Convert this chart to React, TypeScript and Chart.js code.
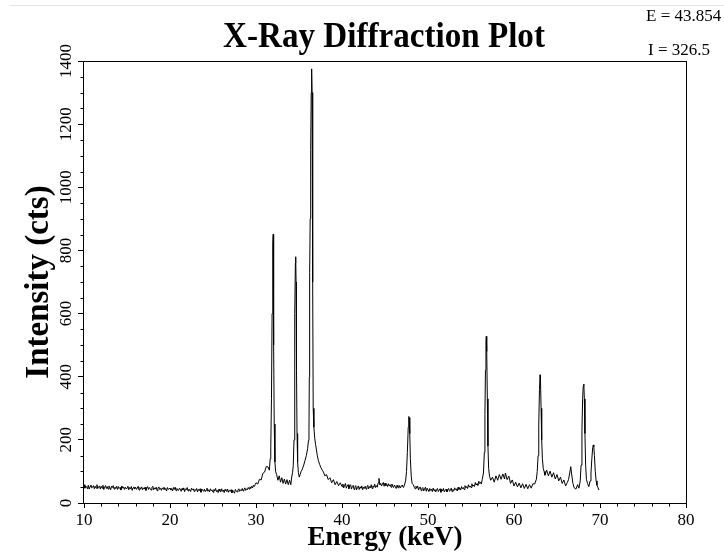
import React, { useEffect, useRef } from "react";
import { Chart, registerables } from "chart.js";

Chart.register(...registerables);

// ---- data ----
const energyKeV: number[] = [
  10.0, 10.1, 10.2, 10.3, 10.4, 10.5, 10.6, 10.7, 10.8, 10.9,
  11.0, 11.1, 11.2, 11.3, 11.4, 11.5, 11.6, 11.7, 11.8, 11.9,
  12.0, 12.1, 12.2, 12.3, 12.4, 12.5, 12.6, 12.7, 12.8, 12.9,
  13.0, 13.1, 13.2, 13.3, 13.4, 13.5, 13.6, 13.7, 13.8, 13.9,
  14.0, 14.1, 14.2, 14.3, 14.4, 14.5, 14.6, 14.7, 14.8, 14.9,
  15.0, 15.1, 15.2, 15.3, 15.4, 15.5, 15.6, 15.7, 15.8, 15.9,
  16.0, 16.1, 16.2, 16.3, 16.4, 16.5, 16.6, 16.7, 16.8, 16.9,
  17.0, 17.1, 17.2, 17.3, 17.4, 17.5, 17.6, 17.7, 17.8, 17.9,
  18.0, 18.1, 18.2, 18.3, 18.4, 18.5, 18.6, 18.7, 18.8, 18.9,
  19.0, 19.1, 19.2, 19.3, 19.4, 19.5, 19.6, 19.7, 19.8, 19.9,
  20.0, 20.1, 20.2, 20.3, 20.4, 20.5, 20.6, 20.7, 20.8, 20.9,
  21.0, 21.1, 21.2, 21.3, 21.4, 21.5, 21.6, 21.7, 21.8, 21.9,
  22.0, 22.1, 22.2, 22.3, 22.4, 22.5, 22.6, 22.7, 22.8, 22.9,
  23.0, 23.1, 23.2, 23.3, 23.4, 23.5, 23.6, 23.7, 23.8, 23.9,
  24.0, 24.1, 24.2, 24.3, 24.4, 24.5, 24.6, 24.7, 24.8, 24.9,
  25.0, 25.1, 25.2, 25.3, 25.4, 25.5, 25.6, 25.7, 25.8, 25.9,
  26.0, 26.1, 26.2, 26.3, 26.4, 26.5, 26.6, 26.7, 26.8, 26.9,
  27.0, 27.1, 27.2, 27.3, 27.4, 27.5, 27.6, 27.7, 27.8, 27.9,
  28.0, 28.1, 28.2, 28.3, 28.4, 28.5, 28.6, 28.7, 28.8, 28.9,
  29.0, 29.1, 29.2, 29.3, 29.4, 29.5, 29.6, 29.7, 29.8, 29.9,
  30.0, 30.2, 30.4, 30.6, 30.8, 31.0, 31.2, 31.4, 31.55,
  31.65, 31.72, 31.8, 31.87, 31.93, 31.97, 32.0, 32.03, 32.07, 32.12, 32.2, 32.28,
  32.4, 32.55, 32.7, 32.85, 33.0, 33.15, 33.3, 33.45, 33.6, 33.75, 33.9, 34.05, 34.15,
  34.25, 34.33, 34.42, 34.48, 34.53, 34.58, 34.62, 34.66, 34.71, 34.77, 34.84, 34.93, 35.03, 35.13,
  35.25, 35.4, 35.55, 35.7, 35.85, 36.0, 36.1, 36.16, 36.2, 36.24, 36.3, 36.36, 36.42, 36.47, 36.52, 36.57, 36.61, 36.65,
  36.73, 36.83, 36.93, 37.03, 37.13, 37.25, 37.4, 37.55, 37.7, 37.85, 38.0, 38.2, 38.4, 38.6, 38.8, 39.0, 39.2, 39.4, 39.6, 39.8,
  40.0, 40.1, 40.2, 40.3, 40.4, 40.5, 40.6, 40.7, 40.8, 40.9,
  41.0, 41.1, 41.2, 41.3, 41.4, 41.5, 41.6, 41.7, 41.8, 41.9,
  42.0, 42.1, 42.2, 42.3, 42.4, 42.5, 42.6, 42.7, 42.8, 42.9,
  43.0, 43.1, 43.2, 43.3, 43.4, 43.5, 43.6, 43.7, 43.8, 43.9,
  44.0, 44.1, 44.2, 44.3, 44.4, 44.5, 44.6, 44.7, 44.8, 44.9,
  45.0, 45.1, 45.2, 45.3, 45.4, 45.5, 45.6, 45.7, 45.8, 45.9,
  46.0, 46.1, 46.2, 46.3, 46.4, 46.5, 46.6, 46.7, 46.8, 46.9,
  47.0, 47.1, 47.2, 47.3, 47.4,
  47.5, 47.6, 47.7, 47.76, 47.82, 47.88, 47.95, 48.05, 48.15,
  48.3, 48.4, 48.5, 48.6, 48.7, 48.8, 48.9,
  49.0, 49.1, 49.2, 49.3, 49.4, 49.5, 49.6, 49.7, 49.8, 49.9,
  50.0, 50.1, 50.2, 50.3, 50.4, 50.5, 50.6, 50.7, 50.8, 50.9,
  51.0, 51.1, 51.2, 51.3, 51.4, 51.5, 51.6, 51.7, 51.8, 51.9,
  52.0, 52.1, 52.2, 52.3, 52.4, 52.5, 52.6, 52.7, 52.8, 52.9,
  53.0, 53.1, 53.2, 53.3, 53.4, 53.5, 53.6, 53.7, 53.8, 53.9,
  54.0, 54.1, 54.2, 54.3, 54.4, 54.5, 54.6, 54.7, 54.8, 54.9,
  55.0, 55.1, 55.2, 55.3, 55.4, 55.5, 55.6, 55.7, 55.8, 55.9,
  56.0, 56.1, 56.2, 56.3, 56.45,
  56.55, 56.62, 56.68, 56.74, 56.78, 56.83, 56.9, 56.97, 57.05, 57.15, 57.3,
  57.5, 57.7, 57.9, 58.1, 58.3, 58.5, 58.7, 58.9, 59.0, 59.2, 59.4, 59.6, 59.8,
  60.0, 60.2, 60.4, 60.6, 60.8, 61.0, 61.2, 61.4, 61.6, 61.8, 62.0, 62.2, 62.4, 62.6,
  62.7, 62.8, 62.88, 62.96, 63.03, 63.08, 63.15, 63.22, 63.3, 63.4, 63.5,
  63.6, 63.8, 64.0, 64.2, 64.4, 64.6, 64.8, 65.0, 65.2, 65.4, 65.6, 65.8,
  66.0, 66.2, 66.35, 66.5, 66.6, 66.7, 66.85, 67.0, 67.2, 67.4, 67.55, 67.7,
  67.8, 67.9, 67.98, 68.05, 68.12, 68.18, 68.25, 68.33, 68.42, 68.55, 68.7, 68.85,
  68.95, 69.05, 69.15, 69.22, 69.28, 69.35, 69.45, 69.55, 69.65, 69.75, 69.85, 69.9,
];

const intensityCts: number[] = [
  58, 47, 54, 50, 45, 56, 44, 52, 57, 48,
  50, 55, 45, 53, 47, 58, 46, 51, 54, 44,
  53, 47, 56, 43, 50, 55, 46, 52, 44, 54,
  48, 42, 53, 49, 55, 44, 50, 46, 53, 43,
  52, 46, 49, 41, 54, 47, 51, 43, 50, 45,
  48, 53, 42, 49, 45, 52, 40, 48, 51, 44,
  50, 43, 47, 53, 41, 49, 45, 51, 42, 48,
  44, 50, 40, 47, 52, 43, 49, 45, 41, 50,
  53, 42, 48, 44, 50, 39, 47, 51, 43, 46,
  40, 48, 44, 50, 42, 46, 38, 49, 43, 45,
  47, 41, 45, 38, 49, 43, 50, 39, 46, 42,
  40, 47, 44, 37, 46, 41, 48, 36, 45, 42,
  49, 38, 44, 41, 36, 47, 42, 45, 37, 43,
  40, 46, 35, 43, 39, 45, 34, 44, 40, 37,
  44, 36, 41, 47, 37, 42, 35, 45, 39, 41,
  34, 43, 38, 46, 36, 40, 33, 44, 38, 35,
  45, 37, 41, 33, 43, 39, 36, 44, 34, 40,
  37, 42, 32, 40, 36, 31, 43, 38, 35, 41,
  45, 37, 42, 39, 46, 38, 43, 48, 40, 45,
  42, 49, 44, 51, 46, 53, 48, 56, 52, 58,
  64, 60, 75, 73, 94, 98, 116, 114, 104,
  140, 180, 330, 600, 780, 820, 851, 800, 500, 250, 130, 100,
  90, 72, 86, 66, 80, 62, 76, 60, 74, 58, 72, 58, 82,
  96, 118, 200, 380, 600, 760, 780, 700, 420, 220, 130, 96, 82, 90,
  100, 108, 120, 135, 150, 172, 198, 230, 400, 730, 900, 1120, 1300, 1375, 1300, 1120, 700, 300,
  240, 205, 185, 168, 150, 135, 122, 112, 104, 98, 86, 90, 74, 80, 64, 74, 58, 68, 55, 64,
  52, 60, 48, 56, 62, 47, 54, 58, 45, 55,
  58, 44, 52, 56, 43, 50, 55, 42, 49, 54,
  43, 51, 47, 54, 42, 50, 46, 53, 44, 51,
  56, 45, 52, 48, 58, 46, 54, 50, 60, 49,
  55, 50, 64, 78, 57, 62, 54, 60, 65, 53,
  63, 55, 59, 52, 61, 54, 58, 50, 60, 53,
  49, 57, 52, 46, 56, 50, 47, 55, 48, 53,
  57, 50, 52, 61, 70,
  100, 160, 240, 274, 270, 220, 140, 85, 62,
  58, 50, 45, 53, 47, 54, 41,
  48, 51, 39, 46, 49, 38, 45, 50, 37, 47,
  41, 37, 46, 40, 44, 36, 47, 39, 43, 35,
  42, 46, 36, 41, 45, 34, 43, 38, 46, 35,
  40, 44, 35, 42, 46, 37, 40, 47, 36, 43,
  39, 48, 42, 45, 38, 50, 43, 47, 41, 52,
  45, 49, 43, 55, 48, 52, 46, 58, 50, 54,
  49, 61, 53, 57, 52, 65, 57, 61, 56, 69,
  62, 66, 60, 74, 95,
  160, 280, 420, 510, 528, 480, 330, 180, 110, 85, 72,
  82, 66, 86, 72, 90, 75, 92, 76, 95, 74, 85, 62, 73,
  54, 66, 51, 63, 48, 61, 46, 59, 45, 58, 47, 61, 60, 75,
  100, 150, 250, 360, 406, 390, 300, 200, 140, 110, 100,
  88, 104, 86, 101, 82, 96, 76, 90, 70, 82, 62, 73,
  54, 65, 75, 98, 115, 92, 62, 48, 44, 58, 47, 70,
  120, 230, 330, 370, 377, 330, 220, 120, 75, 62, 52, 70,
  95, 140, 175, 184, 178, 150, 100, 70, 56, 50, 42, 44,
];

const xTickValues: number[] = [10, 20, 30, 40, 50, 60, 70, 80];
const yTickValues: number[] = [0, 200, 400, 600, 800, 1000, 1200, 1400];

const chartTitle = "X-Ray Diffraction Plot";
const xAxisTitle = "Energy (keV)";
const yAxisTitle = "Intensity (cts)";
const readoutLines: string[] = ["E = 43.854", "I = 326.5"];

const SERIF = '"Liberation Serif", "Times New Roman", Times, serif';

export default function App() {
  const canvasRef = useRef<HTMLCanvasElement | null>(null);

  useEffect(() => {
    const canvas = canvasRef.current;
    if (!canvas) return;

    const points = energyKeV.map((e, i) => ({ x: e, y: intensityCts[i] }));

    const decor = {
      id: "decor",
      beforeDraw(chart: any) {
        const { ctx, width } = chart;
        ctx.save();
        ctx.fillStyle = "#ffffff";
        ctx.fillRect(0, 0, chart.width, chart.height);
        ctx.strokeStyle = "#e4e4e4";
        ctx.lineWidth = 1;
        ctx.beginPath();
        ctx.moveTo(10, 5.5);
        ctx.lineTo(width, 5.5);
        ctx.stroke();
        ctx.restore();
      },
      afterDraw(chart: any) {
        const { ctx, chartArea: a, scales } = chart;
        const xs = scales.x;
        const ys = scales.y;
        ctx.save();
        ctx.strokeStyle = "#000";
        ctx.lineWidth = 1;
        const L = Math.round(a.left) - 0.5;
        const R = Math.round(a.right) + 0.5;
        const T = Math.round(a.top) + 0.5;
        const B = Math.round(a.bottom) + 0.5;
        ctx.strokeRect(L, T, R - L, B - T);
        // minor ticks
        ctx.beginPath();
        for (let v = 12; v < 80; v += 2) {
          if (v % 10 === 0) continue;
          const px = Math.round(xs.getPixelForValue(v)) + 0.5;
          ctx.moveTo(px, B);
          ctx.lineTo(px, B + 3);
        }
        for (let v = 50; v < 1400; v += 50) {
          if (v % 200 === 0) continue;
          const py = Math.round(ys.getPixelForValue(v)) + 0.5;
          ctx.moveTo(L, py);
          ctx.lineTo(L - 3, py);
        }
        ctx.stroke();
        // title (slightly condensed, as in the reference)
        ctx.fillStyle = "#000";
        ctx.textBaseline = "alphabetic";
        ctx.textAlign = "center";
        ctx.save();
        ctx.translate(384, 47);
        ctx.scale(0.92, 1);
        ctx.font = `bold 36px ${SERIF}`;
        ctx.fillText(chartTitle, 0, 0);
        ctx.restore();
        // readout
        ctx.textAlign = "left";
        ctx.font = `17px ${SERIF}`;
        ctx.fillText(readoutLines[0], 646, 21);
        ctx.fillText(readoutLines[1], 648, 55);
        ctx.restore();
      },
    };

    const chart = new Chart(canvas, {
      type: "line",
      data: {
        datasets: [
          {
            data: points,
            borderColor: "#000",
            borderWidth: 1,
            pointRadius: 0,
            tension: 0,
            fill: false,
          },
        ],
      },
      options: {
        animation: false,
        responsive: false,
        devicePixelRatio: 1,
        layout: { padding: { left: 0, top: 61, right: 38, bottom: 0 } },
        plugins: {
          legend: { display: false },
          tooltip: { enabled: false },
          title: { display: false },
        },
        scales: {
          x: {
            type: "linear",
            min: 10,
            max: 80,
            afterBuildTicks: (s: any) => {
              s.ticks = xTickValues.map((v) => ({ value: v }));
            },
            afterFit: (s: any) => {
              s.height = 55;
            },
            border: { display: false },
            grid: {
              drawOnChartArea: false,
              drawTicks: true,
              tickLength: 5,
              color: "#000",
              lineWidth: 1,
            },
            ticks: {
              color: "#000",
              font: { family: SERIF, size: 17 },
              padding: 2,
              maxRotation: 0,
              autoSkip: false,
              callback: (v: any) => String(v),
            },
            title: {
              display: true,
              text: xAxisTitle,
              color: "#000",
              font: { family: SERIF, size: 27, weight: "bold" },
              padding: { top: 0, bottom: 4 },
            },
          },
          y: {
            type: "linear",
            min: 0,
            max: 1400,
            afterBuildTicks: (s: any) => {
              s.ticks = yTickValues.map((v) => ({ value: v }));
            },
            afterFit: (s: any) => {
              s.width = 84;
            },
            border: { display: false },
            grid: {
              drawOnChartArea: false,
              drawTicks: true,
              tickLength: 6,
              color: "#000",
              lineWidth: 1,
            },
            ticks: {
              color: "#000",
              font: { family: SERIF, size: 17 },
              minRotation: 90,
              maxRotation: 90,
              crossAlign: "center",
              padding: -6,
              autoSkip: false,
              callback: (v: any) => String(v),
            },
            title: {
              display: true,
              text: yAxisTitle,
              color: "#000",
              font: { family: SERIF, size: 33, weight: "bold" },
              padding: { top: 20, bottom: 0 },
            },
          },
        },
      },
      plugins: [decor],
    } as any);

    return () => {
      chart.destroy();
    };
  }, []);

  return (
    <div style={{ position: "absolute", left: 0, top: 0, width: 724, height: 558, background: "#fff" }}>
      <canvas ref={canvasRef} width={724} height={558} style={{ display: "block" }} />
    </div>
  );
}
